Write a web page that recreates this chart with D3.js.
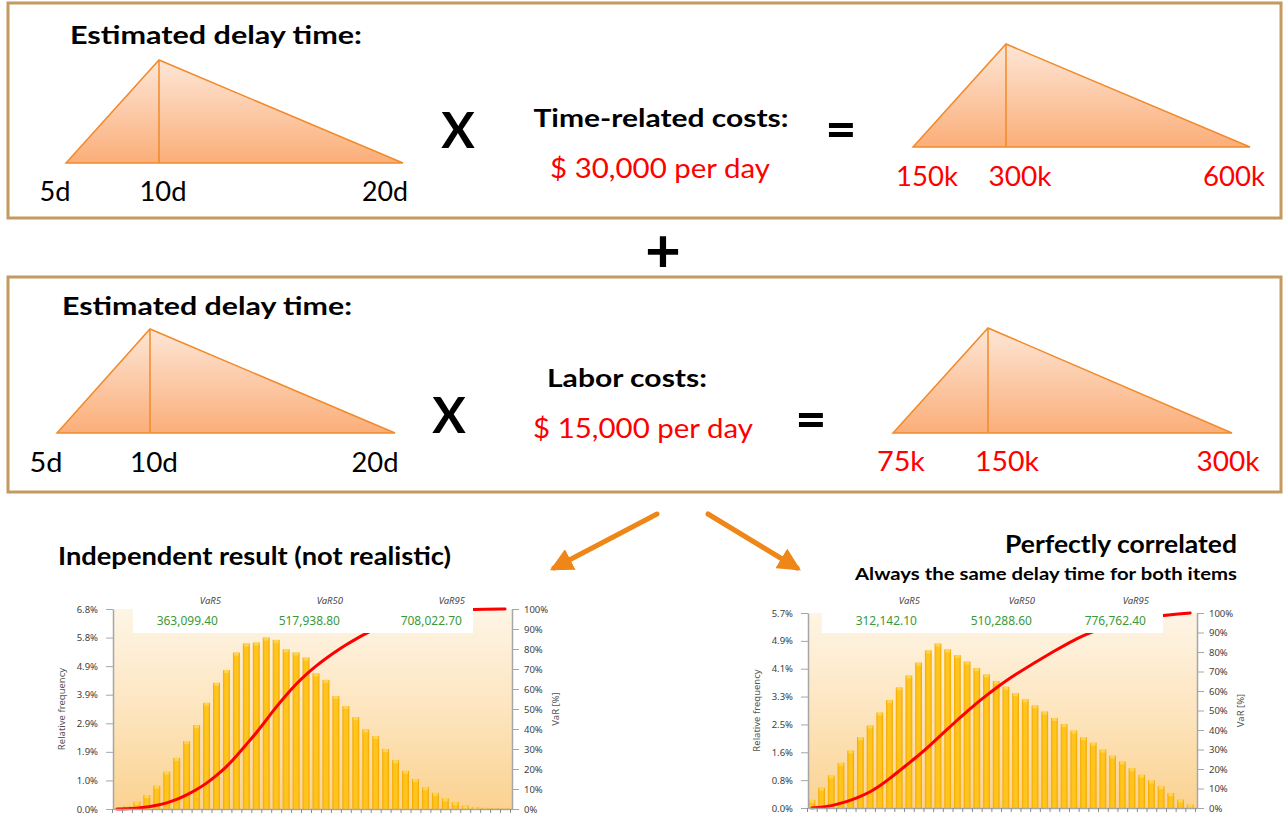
<!DOCTYPE html>
<html>
<head>
<meta charset="utf-8">
<script src="https://cdn.jsdelivr.net/npm/d3@7"></script>
<style>
  html, body { margin: 0; padding: 0; background: #fff; }
  svg { display: block; }
</style>
</head>
<body>
<div id="chart"></div>
<script>
// ── Data ─────────────────────────────────────────────
const delayDays       = [5, 10, 20];
const delayLabels     = ['5d', '10d', '20d'];
const timeCostK       = [150, 300, 600];
const timeCostLabels  = ['150k', '300k', '600k'];
const laborCostK      = [75, 150, 300];
const laborCostLabels = ['75k', '150k', '300k'];

// relative frequency per bin (%), 40 bins
const indepFreq = [0.02, 0.10, 0.25, 0.47, 0.79, 1.27, 1.74, 2.31, 2.85, 3.61,
                   4.29, 4.72, 5.32, 5.63, 5.66, 5.83, 5.75, 5.43, 5.32, 5.15,
                   4.61, 4.39, 3.84, 3.50, 3.12, 2.71, 2.48, 2.04, 1.66, 1.30,
                   1.02, 0.74, 0.55, 0.36, 0.23, 0.12, 0.07, 0.04, 0.03, 0.02];
const corrFreq  = [0.24, 0.60, 0.96, 1.33, 1.69, 2.08, 2.43, 2.81, 3.18, 3.55,
                   3.90, 4.28, 4.64, 4.84, 4.67, 4.50, 4.31, 4.12, 3.93, 3.74,
                   3.57, 3.38, 3.20, 3.02, 2.84, 2.65, 2.47, 2.28, 2.08, 1.92,
                   1.72, 1.54, 1.37, 1.17, 0.98, 0.81, 0.64, 0.44, 0.25, 0.10];

// cumulative VaR curve: [bin position, %]
const indepCdf = [[1, 0], [2, 0.1], [3, 0.4], [4, 0.9], [5, 1.8], [6, 3.0], [7, 4.7], [8, 7.0],
                  [9, 9.7], [10, 12.8], [11, 16.8], [12, 21.0], [13, 26.5], [14, 32.3], [15, 38.0],
                  [16, 44.5], [17, 51.0], [18, 57.0], [19, 62.5], [20, 67.3], [21, 71.5], [22, 75.3],
                  [23, 78.8], [24, 82.0], [25, 85.0], [26, 87.7], [27, 90.2], [28, 92.5], [30, 95.8],
                  [32, 98.0], [34, 99.2], [36, 99.7], [38, 99.9], [40, 100]];
const corrCdf  = [[1, 0], [2, 0.4], [3, 1.1], [4, 2.5], [5, 4.0], [6, 5.9], [7, 8.2], [8, 11.3],
                  [9, 15.0], [10, 19.0], [11, 23.0], [12, 27.0], [13, 31.3], [14, 36.0], [15, 40.5],
                  [16, 45.2], [17, 49.5], [18, 53.8], [19, 57.8], [20, 61.6], [21, 65.2], [22, 68.5],
                  [23, 71.6], [24, 74.6], [25, 77.6], [26, 80.5], [27, 83.3], [28, 86.0], [29, 88.4],
                  [30, 90.5], [32, 93.8], [34, 96.2], [36, 97.9], [38, 99.2], [40, 100]];

const varNames  = ['VaR5', 'VaR50', 'VaR95'];
const indepVaR  = ['363,099.40', '517,938.80', '708,022.70'];
const corrVaR   = ['312,142.10', '510,288.60', '776,762.40'];

const indepFreqTicks = ['0.0%', '1.0%', '1.9%', '2.9%', '3.9%', '4.9%', '5.8%', '6.8%'];
const corrFreqTicks  = ['0.0%', '0.8%', '1.6%', '2.5%', '3.3%', '4.1%', '4.9%', '5.7%'];
const varTicks       = ['0%', '10%', '20%', '30%', '40%', '50%', '60%', '70%', '80%', '90%', '100%'];
const indepFreqMax = 6.8, corrFreqMax = 5.74;

// ── Setup ────────────────────────────────────────────
const W = 1284, H = 825;
const BIG  = "'Lato','Open Sans',sans-serif";
const SMALL = "'Segoe UI','Noto Sans','Open Sans',sans-serif";
const ORANGE = '#ee8618', RED = '#ff0000';

const svg = d3.select('#chart').append('svg').attr('width', W).attr('height', H);
svg.append('rect').attr('width', W).attr('height', H).attr('fill', '#fff');
const defs = svg.append('defs');

function vGrad(id, stops) {
  const g = defs.append('linearGradient').attr('id', id)
    .attr('x1', 0).attr('y1', 0).attr('x2', 0).attr('y2', 1);
  stops.forEach(([o, c]) => g.append('stop').attr('offset', o).attr('stop-color', c));
}
vGrad('triGrad',  [[0, '#fde6d6'], [1, '#fbae79']]);
vGrad('plotGrad', [[0, '#fef5e6'], [0.5, '#fde5bf'], [1, '#fbd291']]);
const bg = defs.append('linearGradient').attr('id', 'barGrad')
  .attr('x1', 0).attr('y1', 0).attr('x2', 1).attr('y2', 0);
[[0, '#f4a900'], [0.3, '#ffc51c'], [0.7, '#ffc51c'], [1, '#f2a600']]
  .forEach(([o, c]) => bg.append('stop').attr('offset', o).attr('stop-color', c));

defs.append('marker').attr('id', 'arrow')
  .attr('viewBox', '0 0 10 10').attr('refX', 8).attr('refY', 5)
  .attr('markerWidth', 4.6).attr('markerHeight', 4.6).attr('orient', 'auto')
  .append('path').attr('d', 'M0,0 L10,5 L0,10 Z').attr('fill', ORANGE);

function txt(g, x, y, s, o = {}) {
  const t = g.append('text').attr('x', x).attr('y', y).text(s)
    .attr('font-family', o.family || BIG)
    .attr('font-size', o.size || 24)
    .attr('font-weight', o.weight || 'normal')
    .attr('fill', o.fill || '#000')
    .attr('text-anchor', o.anchor || 'start');
  if (o.style) t.attr('font-style', o.style);
  if (o.len) t.attr('textLength', o.len).attr('lengthAdjust', 'spacingAndGlyphs');
  return t;
}

// ── Top boxes ────────────────────────────────────────
svg.append('rect').attr('x', 8).attr('y', 3).attr('width', 1273).attr('height', 215)
  .attr('fill', 'none').attr('stroke', '#c49a62').attr('stroke-width', 3);
svg.append('rect').attr('x', 8).attr('y', 277).attr('width', 1273).attr('height', 215)
  .attr('fill', 'none').attr('stroke', '#c49a62').attr('stroke-width', 3);

function triangle(cfg) {
  const x = d3.scaleLinear().domain(cfg.values).range(cfg.range);
  const y = d3.scaleLinear().domain([0, 1]).range([cfg.yBase, cfg.yApex]);
  const pts = [[cfg.values[0], 0], [cfg.values[1], 1], [cfg.values[2], 0]];
  const g = svg.append('g');
  g.append('path')
    .attr('d', d3.line().x(d => x(d[0])).y(d => y(d[1]))(pts) + 'Z')
    .attr('fill', 'url(#triGrad)').attr('stroke', '#f28a2a').attr('stroke-width', 1.5);
  g.append('line')
    .attr('x1', x(cfg.values[1])).attr('x2', x(cfg.values[1]))
    .attr('y1', y(1)).attr('y2', y(0))
    .attr('stroke', '#f28a2a').attr('stroke-width', 1.5);
  cfg.labels.forEach((l, i) => {
    txt(g, x(cfg.values[i]) + cfg.dx[i], cfg.labelY, l,
      { size: 27, fill: cfg.color, anchor: 'middle', len: cfg.lens[i] });
  });
}

// Box 1
txt(svg, 70, 44, 'Estimated delay time:', { weight: 'bold', size: 24, len: 292 });
triangle({ values: delayDays, range: [66, 159, 403], yBase: 163, yApex: 60,
  labels: delayLabels, dx: [-11, 4, -18], lens: [31, 47, 46], labelY: 201, color: '#000' });
txt(svg, 458, 148, 'X', { weight: 'bold', size: 50, anchor: 'middle' });
txt(svg, 661, 127, 'Time-related costs:', { weight: 'bold', size: 24, anchor: 'middle', len: 255 });
txt(svg, 660, 178, '$ 30,000 per day', { size: 26, fill: RED, anchor: 'middle', len: 220 });
txt(svg, 841, 148, '=', { weight: 'bold', size: 54, anchor: 'middle' });
triangle({ values: timeCostK, range: [913, 1006, 1250], yBase: 147, yApex: 44,
  labels: timeCostLabels, dx: [14, 14, -16], lens: [62, 63, 62], labelY: 186, color: RED });

// plus
txt(svg, 663, 272, '+', { weight: 'bold', size: 62, anchor: 'middle' });

// Box 2
txt(svg, 62, 315, 'Estimated delay time:', { weight: 'bold', size: 24, len: 290 });
triangle({ values: delayDays, range: [57, 150, 395], yBase: 433, yApex: 329,
  labels: delayLabels, dx: [-11, 4, -20], lens: [33, 48, 47], labelY: 472, color: '#000' });
txt(svg, 449, 433, 'X', { weight: 'bold', size: 50, anchor: 'middle' });
txt(svg, 627, 387, 'Labor costs:', { weight: 'bold', size: 24, anchor: 'middle', len: 160 });
txt(svg, 643, 438, '$ 15,000 per day', { size: 26, fill: RED, anchor: 'middle', len: 220 });
txt(svg, 811, 438, '=', { weight: 'bold', size: 54, anchor: 'middle' });
triangle({ values: laborCostK, range: [893, 988, 1232], yBase: 433, yApex: 328,
  labels: laborCostLabels, dx: [8, 19, -4], lens: [48, 64, 63], labelY: 471, color: RED });

// ── Arrows ───────────────────────────────────────────
[[657, 514, 554, 568], [708, 514, 797, 568]].forEach(([x1, y1, x2, y2]) => {
  svg.append('line').attr('x1', x1).attr('y1', y1).attr('x2', x2).attr('y2', y2)
    .attr('stroke', ORANGE).attr('stroke-width', 5).attr('stroke-linecap', 'round')
    .attr('marker-end', 'url(#arrow)');
});

// ── Titles ───────────────────────────────────────────
txt(svg, 58, 565, 'Independent result (not realistic)', { weight: 'bold', size: 24, len: 393 });
txt(svg, 1237, 553, 'Perfectly correlated', { weight: 'bold', size: 25, anchor: 'end', len: 232 });
txt(svg, 1237, 580, 'Always the same delay time for both items', { weight: 'bold', size: 17, anchor: 'end', len: 382 });

// ── Histograms ───────────────────────────────────────
function histogram(cfg) {
  const g = svg.append('g');
  const x = d3.scaleLinear().domain([0.6, 40.7]).range([cfg.x0, cfg.x1]);
  const y = d3.scaleLinear().domain([0, cfg.freqMax]).range([cfg.yBot, cfg.yTop]);
  const yp = d3.scaleLinear().domain([0, 100]).range([cfg.yBot, cfg.yTop]);
  const bw = (x(2) - x(1)) * 0.7;

  g.append('rect').attr('x', cfg.x0).attr('y', cfg.yTop)
    .attr('width', cfg.x1 - cfg.x0).attr('height', cfg.yBot - cfg.yTop)
    .attr('fill', 'url(#plotGrad)');

  const bars = g.append('g').selectAll('g').data(cfg.freq).join('g');
  bars.append('rect')
    .attr('x', (d, i) => x(i + 1) - bw / 2).attr('y', d => y(d))
    .attr('width', bw).attr('height', d => cfg.yBot - y(d))
    .attr('fill', 'url(#barGrad)');
  bars.append('rect')
    .attr('x', (d, i) => x(i + 1) - bw / 2 + 1).attr('y', d => y(d))
    .attr('width', bw - 2).attr('height', d => Math.min(3, cfg.yBot - y(d)))
    .attr('fill', '#ffd75e').attr('opacity', 0.8);

  g.append('path').datum(cfg.cdf)
    .attr('d', d3.line().x(d => x(d[0])).y(d => yp(d[1])).curve(d3.curveBasis))
    .attr('fill', 'none').attr('stroke', RED).attr('stroke-width', 3)
    .attr('stroke-linecap', 'round');

  // VaR header box
  g.append('rect').attr('x', cfg.boxX0).attr('y', cfg.yTop - 14)
    .attr('width', cfg.boxX1 - cfg.boxX0).attr('height', 633 - (cfg.yTop - 14))
    .attr('fill', '#fff');
  cfg.varNames.forEach((n, i) => {
    txt(g, cfg.varX[i] + 3, 604, n, { family: SMALL, size: 9.5, fill: '#444', style: 'italic', anchor: 'end' });
    txt(g, cfg.varX[i], 625, cfg.varVals[i], { family: SMALL, size: 12, fill: '#3a9a3a', anchor: 'end' });
  });

  // axes
  const axL = d3.axisLeft(y)
    .tickValues(d3.range(8).map(k => cfg.freqMax * k / 7))
    .tickFormat((d, i) => cfg.freqTicks[i]).tickSize(7).tickPadding(8).tickSizeOuter(0);
  const axR = d3.axisRight(yp)
    .tickValues(d3.range(11).map(k => k * 10))
    .tickFormat((d, i) => varTicks[i]).tickSize(7).tickPadding(5).tickSizeOuter(0);
  const gl = g.append('g').attr('transform', `translate(${cfg.x0},0)`).call(axL);
  const gr = g.append('g').attr('transform', `translate(${cfg.x1},0)`).call(axR);
  [gl, gr].forEach(a => {
    a.select('.domain').attr('stroke', '#a6a6a6').attr('stroke-width', 1.5);
    a.selectAll('.tick line').attr('stroke', '#a6a6a6');
    a.selectAll('.tick text').attr('fill', '#404040')
      .attr('font-family', SMALL).attr('font-size', 9.5);
  });

  const axB = d3.axisBottom(x)
    .tickValues(d3.range(41).map(k => k + 0.5)).tickFormat('').tickSize(4).tickSizeOuter(0);
  const gb = g.append('g').attr('transform', `translate(0,${cfg.yBot})`).call(axB);
  gb.select('.domain').attr('stroke', '#a6a6a6').attr('stroke-width', 1.5);
  gb.selectAll('.tick line').attr('stroke', '#8a8a8a');

  const cy = (cfg.yTop + cfg.yBot) / 2;
  txt(g, 0, 0, 'Relative frequency', { family: SMALL, size: 9.5, fill: '#555', anchor: 'middle' })
    .attr('transform', `translate(${cfg.x0 - 48},${cy}) rotate(-90)`);
  txt(g, 0, 0, 'VaR [%]', { family: SMALL, size: 9.5, fill: '#555', anchor: 'middle' })
    .attr('transform', `translate(${cfg.x1 + 47},${cy}) rotate(-90)`);
}

histogram({
  x0: 113, x1: 512, yTop: 609, yBot: 809,
  freq: indepFreq, cdf: indepCdf, freqMax: indepFreqMax, freqTicks: indepFreqTicks,
  boxX0: 133, boxX1: 473, varNames, varVals: indepVaR, varX: [218, 340, 462]
});
histogram({
  x0: 808, x1: 1197, yTop: 613, yBot: 808,
  freq: corrFreq, cdf: corrCdf, freqMax: corrFreqMax, freqTicks: corrFreqTicks,
  boxX0: 822, boxX1: 1163, varNames, varVals: corrVaR, varX: [917, 1032, 1146]
});
</script>
</body>
</html>
